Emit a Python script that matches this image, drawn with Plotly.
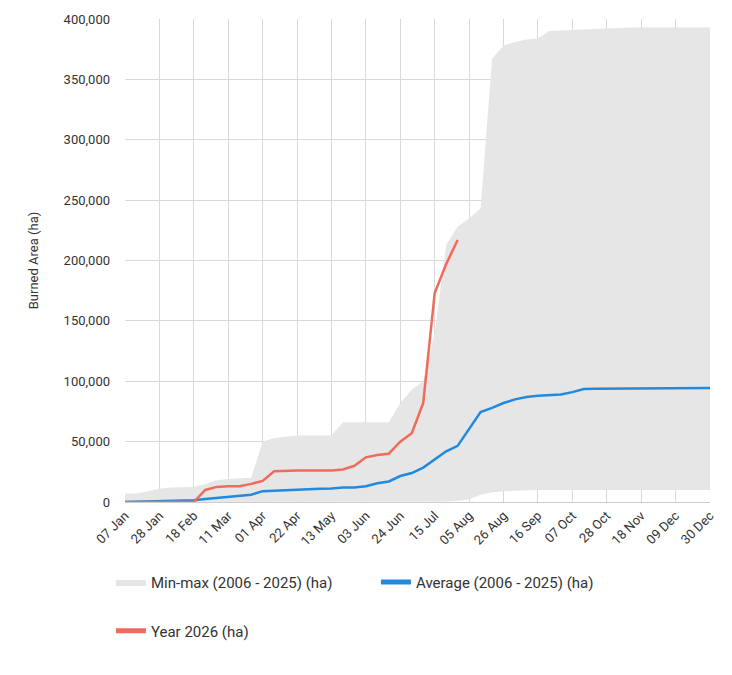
import plotly.graph_objects as go
import pandas as pd

weeks = pd.date_range("2026-01-07", periods=52, freq="7D")
year_2026 = [0,0,0,0,0,0,0,10000,12500,13000,13000,15000,17500,25500,26000,26000,26000,26000,26000,27000,
             30000,37000,39000,40000,50000,57000,82000,173000,197000,217000]
average = [0,200,500,800,1000,1200,1500,2500,3500,4200,5000,6000,9000,9500,10000,10500,10700,11000,11200,12000,
           12000,13000,15500,17000,21500,24000,28500,35000,42000,46500,60000,74500,78000,82000,85000,87000,88000,88500,
           89000,91000,93500,93700,93800,94000,94000,94000,94000,94200,94300,94300,94400,94500]
max_vals = [7000,7000,9000,11000,12000,12000,12500,15000,18000,19000,19500,20000,50000,53000,54000,55000,55000,55000,55000,66000,
            66000,66000,66000,66000,82000,93000,100000,140000,213000,228000,235000,243000,367000,378000,381000,383000,384000,390000,
            390500,391000,391500,392000,392000,392500,393000,393000,393000,393000,393000,393000,393000,393000]
min_vals = [0]*28 + [500,1000,2000,6000,8000,9000,9500,10000,10000,10000,10000,10000,10000,10000,10000,10000,10000,10000,10000,10000,10000,10000,10000,10000]

fig = go.Figure()
fig.add_trace(go.Scatter(x=weeks, y=max_vals, mode="lines", line=dict(width=0), showlegend=False, hoverinfo="skip"))
fig.add_trace(go.Scatter(x=weeks, y=min_vals, mode="lines", line=dict(width=0), fill="tonexty",
                         fillcolor="#e6e6e6", name="Min-max (2006 - 2025) (ha)"))
fig.add_trace(go.Scatter(x=weeks, y=average, mode="lines", line=dict(color="#1f8ae0", width=2.5),
                         name="Average (2006 - 2025) (ha)"))
fig.add_trace(go.Scatter(x=weeks[:len(year_2026)], y=year_2026, mode="lines", line=dict(color="#ef6b5b", width=2.5),
                         name="Year 2026 (ha)", legend="legend2"))

tick_dates = weeks[::3]
leg_common = dict(orientation="h", x=-0.024, xanchor="left", yanchor="middle", entrywidth=220,
                  font=dict(size=15), traceorder="normal", itemsizing="constant")
fig.update_layout(
    width=732, height=675, margin=dict(l=117, r=30, t=11, b=181, autoexpand=False),
    plot_bgcolor="white", paper_bgcolor="white",
    font=dict(family="Roboto", size=13, color="#333"),
    xaxis=dict(range=[weeks[0], weeks[-1]], tickvals=tick_dates, tickformat="%d %b", tickangle=-45,
               showgrid=True, gridcolor="#d9d9d9", showline=True, linecolor="#cccccc", ticks="",
               tickfont=dict(size=13), automargin=False),
    yaxis=dict(range=[0, 400000], dtick=50000, tickformat=",", showgrid=True, gridcolor="#d9d9d9",
               title=dict(text="Burned Area (ha)", font=dict(size=13), standoff=22), zeroline=False,
               tickfont=dict(size=13), automargin=False, ticklabelstandoff=14),
    legend=dict(y=-0.166, **leg_common),
    legend2=dict(y=-0.267, **leg_common),
)
fig.write_html("out.html")
